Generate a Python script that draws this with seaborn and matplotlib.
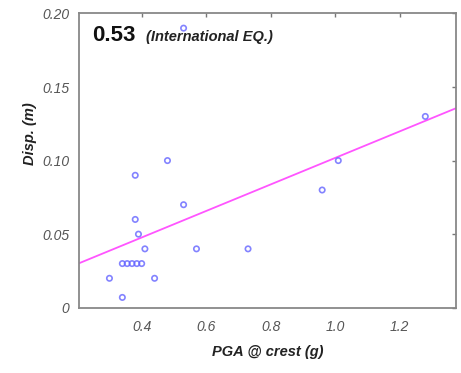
import numpy as np
import pandas as pd
import matplotlib
matplotlib.use("Agg")
import matplotlib.pyplot as plt
import seaborn as sns

# --- Data ---
pga_crest = [0.30, 0.34, 0.34, 0.355, 0.37, 0.385, 0.40, 0.38, 0.38, 0.39,
             0.41, 0.44, 0.48, 0.53, 0.53, 0.57, 0.73, 0.96, 1.01, 1.28]
disp = [0.02, 0.007, 0.03, 0.03, 0.03, 0.03, 0.03, 0.09, 0.06, 0.05,
        0.04, 0.02, 0.10, 0.07, 0.19, 0.04, 0.04, 0.08, 0.10, 0.13]
x_ticks = [0.4, 0.6, 0.8, 1.0, 1.2]
x_tick_labels = ["0.4", "0.6", "0.8", "1.0", "1.2"]
y_ticks = [0, 0.05, 0.10, 0.15, 0.20]
y_tick_labels = ["0", "0.05", "0.10", "0.15", "0.20"]

def set_style():
    sns.set_theme(style="white", context="paper")
    plt.rcParams['font.family'] = ['Liberation Sans', 'DejaVu Sans']
    plt.rcParams['axes.unicode_minus'] = False

def main():
    set_style()
    df = pd.DataFrame({"pga": pga_crest, "disp": disp})
    r = np.corrcoef(df["pga"], df["disp"])[0, 1]

    fig = plt.figure(figsize=(4.61, 3.73), dpi=100)
    ax = fig.add_axes([0.171, 0.175, 0.818, 0.789])
    ax.set_xlim(0.205, 1.375)
    ax.set_ylim(0, 0.2)

    # least squares line over the whole x range
    sns.regplot(data=df, x="pga", y="disp", ax=ax, ci=None, truncate=False,
                marker="o",
                scatter_kws={"s": 15, "facecolors": "none", "edgecolors": "#6464ff",
                             "linewidths": 1.2, "zorder": 3},
                line_kws={"color": "#ff55ff", "lw": 1.3, "zorder": 2})

    ax.set_xlim(0.205, 1.375)
    ax.set_ylim(0, 0.2)
    ax.set_xticks(x_ticks)
    ax.set_xticklabels(x_tick_labels)
    ax.set_yticks(y_ticks)
    ax.set_yticklabels(y_tick_labels)

    ax.tick_params(direction="in", length=3, width=1, color="#777777",
                   labelcolor="#555555", labelsize=10, top=True, right=True)
    ax.tick_params(axis="x", pad=9)
    ax.tick_params(axis="y", pad=7)
    for lab in ax.get_xticklabels() + ax.get_yticklabels():
        lab.set_fontstyle("italic")
    for sp in ax.spines.values():
        sp.set_color("#888888")
        sp.set_linewidth(1.3)

    ax.set_xlabel("PGA @ crest (g)", fontsize=10.5, fontweight="bold",
                  fontstyle="italic", color="#222222", labelpad=8)
    ax.set_ylabel("Disp. (m)", fontsize=10.5, fontweight="bold",
                  fontstyle="italic", color="#222222")
    ax.yaxis.set_label_coords(-0.11, 0.59)

    ax.text(0.035, 0.905, f"{r:.2f}", transform=ax.transAxes, fontsize=16,
            fontweight="bold", color="#111111", va="baseline", ha="left")
    ax.text(0.178, 0.905, "(International EQ.)", transform=ax.transAxes,
            fontsize=10.5, fontweight="bold", fontstyle="italic", color="#222222",
            va="baseline", ha="left")

    fig.savefig("out.png", dpi=100)
    plt.close(fig)

if __name__ == "__main__":
    main()
